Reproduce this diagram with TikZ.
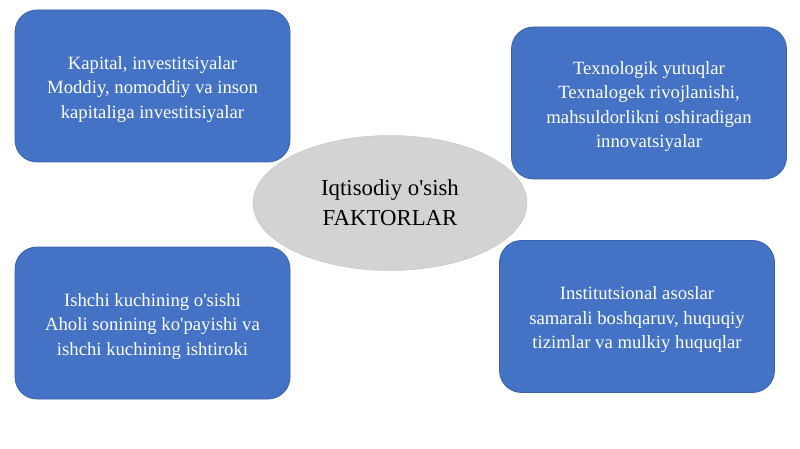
\documentclass[tikz,border=0pt]{standalone}
\usepackage{fontspec}
\setmainfont{Liberation Serif}
\usetikzlibrary{shapes.geometric}
\definecolor{boxblue}{HTML}{4472C4}
\definecolor{boxedge}{HTML}{3A62AC}
\definecolor{ellgrey}{HTML}{D3D3D3}
\newcommand{\ap}{\textquotesingle}
\newcommand{\lowerstrut}{\rule{0pt}{20pt}}
\tikzset{
  factor/.style={draw=boxedge, line width=0.8pt, fill=boxblue, rounded corners=22pt,
    minimum width=275pt, minimum height=152pt, text=white, align=center,
    font=\fontsize{18.7}{24.5}\selectfont, inner sep=0pt},
  hub/.style={ellipse, fill=ellgrey, draw=ellgrey!85!gray, line width=0.5pt,
    minimum width=274pt, minimum height=135pt, align=center,
    font=\fontsize{22.8}{30}\selectfont, inner sep=0pt}
}
\begin{document}
\begin{tikzpicture}[x=1pt,y=-1pt]
\useasboundingbox (0,0) rectangle (800,449);
\node[hub] (hub) at (390,203) {Iqtisodiy o\ap sish\\FAKTORLAR};
\node[factor] (kap) at (152.5,86) {\lowerstrut Kapital, investitsiyalar\\Moddiy, nomoddiy va inson\\kapitaliga investitsiyalar};
\node[factor] (tex) at (649,103) {\lowerstrut Texnologik yutuqlar\\Texnalogek rivojlanishi,\\mahsuldorlikni oshiradigan\\innovatsiyalar};
\node[factor] (ish) at (152.5,323) {\lowerstrut Ishchi kuchining o\ap sishi\\Aholi sonining ko\ap payishi va\\ishchi kuchining ishtiroki};
\node[factor] (ins) at (637,316.5) {\lowerstrut Institutsional asoslar\\samarali boshqaruv, huquqiy\\tizimlar va mulkiy huquqlar};
\end{tikzpicture}
\end{document}
